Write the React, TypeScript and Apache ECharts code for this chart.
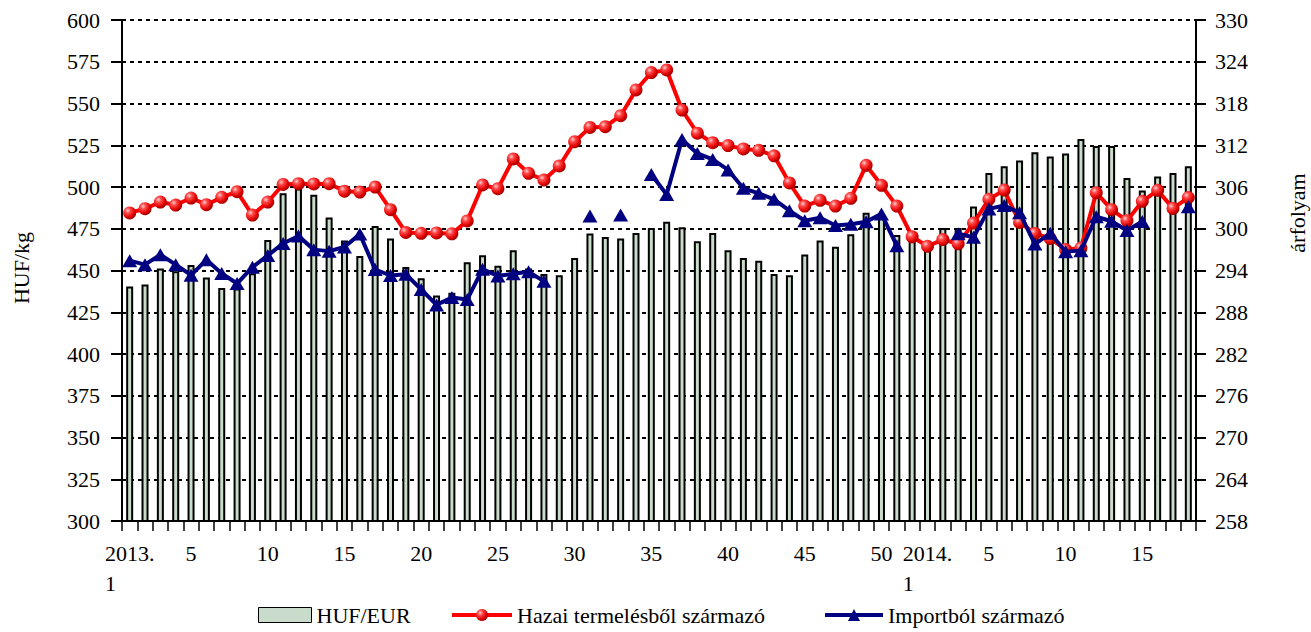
import React, { useEffect, useRef } from "react";
import * as echarts from "echarts";

const categories = [
  "2013. 1", "2", "3", "4", "5", "6", "7", "8", "9", "10",
  "11", "12", "13", "14", "15", "16", "17", "18", "19", "20",
  "21", "22", "23", "24", "25", "26", "27", "28", "29", "30",
  "31", "32", "33", "34", "35", "36", "37", "38", "39", "40",
  "41", "42", "43", "44", "45", "46", "47", "48", "49", "50",
  "51", "52",
  "2014. 1", "2", "3", "4", "5", "6", "7", "8", "9", "10",
  "11", "12", "13", "14", "15", "16", "17", "18",
];

// HUF/EUR exchange rate (right axis)
const hufEur = [
  291.7, 292.0, 294.3, 293.9, 294.8, 293.0, 291.5, 291.4, 293.6, 298.4,
  305.1, 305.8, 304.9, 301.6, 298.3, 296.1, 300.4, 298.6, 294.5, 292.9,
  290.4, 290.8, 295.2, 296.2, 294.7, 296.9, 294.3, 293.5, 293.3, 295.8,
  299.3, 298.8, 298.6, 299.4, 300.1, 301.0, 300.2, 298.2, 299.4, 296.9,
  295.8, 295.4, 293.5, 293.3, 296.3, 298.3, 297.4, 299.2, 302.3, 302.0,
  299.1, 299.3,
  298.0, 300.1, 300.1, 303.2, 308.0, 309.0, 309.8, 311.0, 310.4, 310.8,
  312.9, 311.9, 311.9, 307.3, 305.5, 307.5, 308.0, 309.0,
];

// Hazai termelésből származó (left axis, HUF/kg)
const hazai = [
  484.5, 487.0, 491.0, 489.2, 493.4, 489.4, 493.8, 497.2, 483.2, 491.0,
  501.5, 502.0, 501.8, 502.0, 497.5, 497.0, 500.0, 486.4, 472.8, 472.3,
  472.5, 472.0, 479.7, 501.2, 499.0, 516.8, 508.2, 504.2, 512.6, 527.1,
  535.7, 536.1, 542.7, 558.1, 568.5, 570.1, 546.1, 532.2, 526.5, 524.8,
  522.8, 522.0, 518.7, 502.4, 488.6, 492.0, 488.6, 493.2, 513.0, 501.0,
  488.6, 470.2,
  464.5, 468.5, 466.0, 478.4, 492.6, 498.2, 478.8, 472.2, 469.2, 462.5,
  463.5, 496.6, 486.4, 479.8, 491.4, 498.0, 487.2, 493.7,
];

// Importból származó (left axis, HUF/kg)
const importbol = [
  455.9, 453.5, 459.5, 453.5, 447.2, 456.4, 448.2, 442.2, 452.0, 459.0,
  466.2, 470.6, 462.5, 461.6, 464.1, 471.8, 450.6, 447.0, 447.8, 438.6,
  429.4, 433.8, 432.6, 450.8, 446.7, 448.1, 449.3, 443.5, null, null,
  482.6, null, 483.2, null, 507.5, 495.5, 528.4, 520.1, 516.5, 510.2,
  499.2, 496.2, 492.6, 485.8, 479.8, 481.6, 476.9, 477.7, 479.2, 483.9,
  464.8, null,
  null, null, 472.0, 469.9, 486.9, 488.9, 484.6, 465.8, 472.3, 461.3,
  461.9, 482.2, 479.5, 474.0, 479.4, null, null, 488.2,
];

const FONT = "'Liberation Serif', 'Times New Roman', serif";

export default function App() {
  const ref = useRef<HTMLDivElement>(null);

  useEffect(() => {
    if (!ref.current) return;
    const chart = echarts.init(ref.current, undefined, { renderer: "svg" });

    const sphere = new echarts.graphic.RadialGradient(0.35, 0.32, 0.7, [
      { offset: 0, color: "#ffd0d0" },
      { offset: 0.3, color: "#ff4a4a" },
      { offset: 0.75, color: "#e00000" },
      { offset: 1, color: "#990000" },
    ]);

    const barFill = "#c9dccb";

    const labelShown = (index: number) => {
      const v = categories[index];
      if (v.indexOf(".") > 0) return true;
      return Number(v) % 5 === 0;
    };

    const legendText = { fontSize: 22, fontFamily: FONT, color: "#000" };

    const option: any = {
      animation: false,
      textStyle: { fontFamily: FONT, color: "#000" },
      grid: { left: 122, right: 115, top: 20, bottom: 111 },
      xAxis: {
        type: "category",
        data: categories,
        boundaryGap: true,
        axisLine: { show: true, lineStyle: { color: "#000", width: 2 } },
        axisTick: {
          show: true,
          interval: 0,
          length: 10,
          lineStyle: { color: "#000", width: 1.5 },
        },
        axisLabel: {
          interval: (index: number) => labelShown(index),
          margin: 16,
          color: "#000",
          fontFamily: FONT,
          formatter: (value: string) => {
            if (value.indexOf(".") > 0) {
              const parts = value.split(" ");
              return "{y|" + parts[0] + "}\n{w|" + parts[1] + "}";
            }
            return "{n|" + value + "}";
          },
          rich: {
            y: { fontSize: 22, lineHeight: 32, fontFamily: FONT, color: "#000" },
            w: {
              fontSize: 22,
              lineHeight: 28,
              width: 48,
              align: "left",
              fontFamily: FONT,
              color: "#000",
            },
            n: { fontSize: 22, lineHeight: 32, fontFamily: FONT, color: "#000" },
          },
        },
        splitLine: { show: false },
      },
      yAxis: [
        {
          type: "value",
          min: 300,
          max: 600,
          interval: 25,
          position: "left",
          axisLine: { show: true, lineStyle: { color: "#000", width: 2 } },
          axisTick: {
            show: true,
            inside: false,
            length: 11,
            lineStyle: { color: "#000", width: 2 },
          },
          axisLabel: {
            margin: 22,
            fontSize: 22,
            color: "#000",
            fontFamily: FONT,
          },
          splitLine: {
            show: true,
            lineStyle: { color: "#000", width: 2, type: [4, 4] },
          },
        },
        {
          type: "value",
          min: 258,
          max: 330,
          interval: 6,
          position: "right",
          axisLine: { show: true, lineStyle: { color: "#000", width: 2 } },
          axisTick: {
            show: true,
            inside: false,
            length: 10,
            lineStyle: { color: "#000", width: 2 },
          },
          axisLabel: {
            margin: 19,
            fontSize: 22,
            color: "#000",
            fontFamily: FONT,
          },
          splitLine: { show: false },
        },
      ],
      legend: [
        {
          left: 258,
          top: 604,
          padding: 0,
          itemWidth: 53,
          itemHeight: 15,
          selectedMode: false,
          textStyle: legendText,
          data: [
            {
              name: "HUF/EUR",
              icon: "rect",
              itemStyle: { color: barFill, borderColor: "#000", borderWidth: 1 },
            },
          ],
        },
        {
          left: 450,
          top: 604,
          padding: 0,
          itemWidth: 60,
          itemHeight: 15,
          selectedMode: false,
          textStyle: legendText,
          data: [
            {
              name: "Hazai termelésből származó",
              lineStyle: { width: 4, color: "#ff0000" },
            },
          ],
        },
        {
          left: 823,
          top: 604,
          padding: 0,
          itemWidth: 58,
          itemHeight: 15,
          selectedMode: false,
          textStyle: legendText,
          data: [
            {
              name: "Importból származó",
              lineStyle: { width: 4, color: "#000080" },
            },
          ],
        },
      ],
      series: [
        {
          name: "HUF/EUR",
          type: "bar",
          yAxisIndex: 1,
          data: hufEur,
          barWidth: 7,
          itemStyle: { color: barFill, borderColor: "#000", borderWidth: 2 },
          z: 1,
        },
        {
          name: "Hazai termelésből származó",
          type: "line",
          yAxisIndex: 0,
          data: hazai,
          showAllSymbol: true,
          symbol: "circle",
          symbolSize: 13,
          lineStyle: { color: "#ff0000", width: 4 },
          itemStyle: { color: sphere, borderWidth: 0 },
          z: 3,
        },
        {
          name: "Importból származó",
          type: "line",
          yAxisIndex: 0,
          data: importbol,
          connectNulls: false,
          showAllSymbol: true,
          symbol: "triangle",
          symbolSize: [15, 13],
          lineStyle: { color: "#000080", width: 4 },
          itemStyle: { color: "#000080", borderWidth: 0 },
          z: 4,
        },
      ],
      graphic: [
        {
          type: "text",
          x: 21,
          y: 268,
          rotation: Math.PI / 2,
          style: {
            text: "HUF/kg",
            fontSize: 22,
            fontFamily: FONT,
            fill: "#000",
            align: "center",
            verticalAlign: "middle",
          },
        },
        {
          type: "text",
          x: 1297,
          y: 213,
          rotation: Math.PI / 2,
          style: {
            text: "árfolyam",
            fontSize: 22,
            fontFamily: FONT,
            fill: "#000",
            align: "center",
            verticalAlign: "middle",
          },
        },
      ],
    };

    chart.setOption(option);
    return () => {
      chart.dispose();
    };
  }, []);

  return (
    <div
      ref={ref}
      style={{
        position: "absolute",
        left: 0,
        top: 0,
        width: 1311,
        height: 632,
        background: "#fff",
      }}
    />
  );
}
